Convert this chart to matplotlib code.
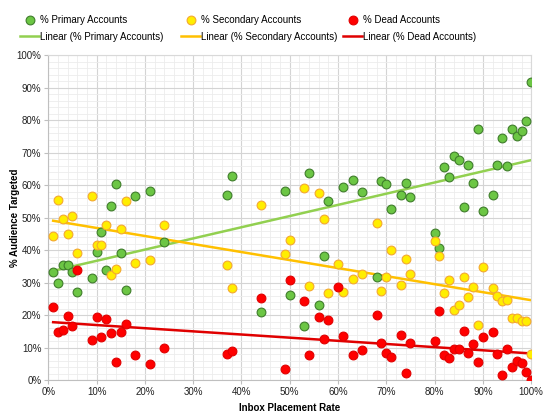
import numpy as np
import matplotlib
matplotlib.use('Agg')
import matplotlib.pyplot as plt
from matplotlib.ticker import MultipleLocator, FuncFormatter

plt.rcParams['font.family'] = ['Liberation Sans', 'DejaVu Sans']

# % Primary Accounts
primary_x = [1, 2, 3, 4, 5, 6, 9, 10, 11, 12, 13, 14, 15, 16, 18, 21, 24, 37, 38, 44,
             49, 50, 53, 54, 56, 57, 58, 61, 63, 65, 68, 69, 70, 71, 73, 74, 75, 80, 81,
             82, 83, 84, 85, 86, 87, 88, 89, 90, 92, 93, 94, 95, 96, 97, 98, 99, 100]
primary_y = [33.3, 29.7, 35.3, 35.3, 33.1, 27.2, 31.3, 39.3, 45.4, 34.0, 53.4, 60.2, 39.0,
             27.6, 56.5, 58.2, 42.4, 56.8, 62.8, 21.0, 58.3, 26.1, 16.7, 63.6, 23.0, 38.3,
             55.0, 59.5, 61.4, 58.0, 31.7, 61.3, 60.3, 52.7, 57.0, 60.6, 56.3, 45.3, 40.6,
             65.6, 62.5, 68.9, 67.6, 53.2, 66.3, 60.6, 77.3, 51.9, 57.0, 66.3, 74.4, 65.8,
             77.1, 75.1, 76.6, 79.7, 91.8]

# % Secondary Accounts
secondary_x = [1, 2, 3, 4, 5, 6, 9, 10, 11, 12, 13, 14, 15, 16, 18, 21, 24, 37, 38, 44,
               49, 50, 53, 54, 56, 57, 58, 60, 61, 63, 65, 68, 69, 70, 71, 73, 74, 75, 80,
               81, 82, 83, 84, 85, 86, 87, 88, 89, 90, 92, 93, 94, 95, 96, 97, 98, 99, 100]
secondary_y = [44.3, 55.5, 49.6, 45.0, 50.4, 39.1, 56.5, 41.5, 41.6, 47.6, 32.2, 34.3, 46.4,
               55.1, 36.0, 36.8, 47.6, 35.3, 28.4, 53.9, 38.7, 43.2, 59.2, 28.9, 57.7, 49.4,
               26.7, 35.7, 27.2, 31.0, 32.6, 48.4, 27.4, 31.6, 39.9, 29.1, 37.1, 32.7, 42.7,
               38.3, 26.7, 30.9, 21.5, 23.0, 31.8, 25.5, 28.5, 17.0, 34.7, 28.2, 25.7, 24.3,
               24.7, 19.1, 19.2, 18.1, 18.1, 8.0]

# % Dead Accounts
dead_x = [1, 2, 3, 4, 5, 6, 9, 10, 11, 12, 13, 14, 15, 16, 18, 21, 24, 37, 38, 44, 49, 50,
          53, 54, 56, 57, 58, 60, 61, 63, 65, 68, 69, 70, 71, 73, 74, 75, 80, 81, 82, 83,
          84, 85, 86, 87, 88, 89, 90, 92, 93, 94, 95, 96, 97, 98, 99, 100]
dead_y = [22.6, 14.9, 15.4, 19.7, 16.6, 34.0, 12.2, 19.5, 13.1, 18.7, 14.4, 5.4, 14.9, 17.3,
          7.6, 5.0, 10.0, 8.1, 8.9, 25.1, 3.3, 30.7, 24.3, 7.6, 19.3, 12.5, 18.6, 28.6, 13.5,
          7.8, 9.3, 19.9, 11.3, 8.2, 7.2, 13.9, 2.1, 11.3, 12.0, 21.1, 7.8, 6.8, 9.5, 9.5,
          15.1, 8.2, 11.1, 5.6, 13.3, 14.8, 8.0, 1.4, 9.5, 4.0, 5.7, 5.2, 2.4, 0.1]

series = [
    ('% Primary Accounts', primary_x, primary_y, '#6cc644', '#3f7d2b', '#92d050'),
    ('% Secondary Accounts', secondary_x, secondary_y, '#ffee00', '#f4a830', '#ffc000'),
    ('% Dead Accounts', dead_x, dead_y, '#ff0000', '#e00000', '#e00000'),
]

fig = plt.figure(figsize=(5.51, 4.17), dpi=100)
ax = fig.add_axes([0.0877, 0.0887, 0.8763, 0.7793])

# legend columns are equally wide, like Excel
legend_x = [0.036, 0.3285, 0.6225]

for (name, xs, ys, fill, edge, line_color), lx in zip(series, legend_x):
    x = np.array(xs) / 100
    y = np.array(ys) / 100
    sc = ax.scatter(x, y, s=40, c=fill, edgecolors=edge, linewidths=0.8, zorder=3, label=name)
    # linear trendline
    k, b = np.polyfit(x, y, 1)
    xx = np.array([x.min(), x.max()])
    ln, = ax.plot(xx, k * xx + b, color=line_color, lw=1.8, zorder=2,
                  label='Linear (' + name + ')')
    fig.legend(handles=[sc, ln], loc='upper left', bbox_to_anchor=(lx, 0.965),
               frameon=False, fontsize=7, handlelength=2.0, handletextpad=0.1,
               labelspacing=0.75, borderpad=0, borderaxespad=0, scatterpoints=1)

ax.set_xlim(0, 1)
ax.set_ylim(0, 1)
pct = FuncFormatter(lambda v, p: f'{v * 100:.0f}%')
ax.xaxis.set_major_locator(MultipleLocator(0.1))
ax.yaxis.set_major_locator(MultipleLocator(0.1))
ax.xaxis.set_minor_locator(MultipleLocator(0.02))
ax.yaxis.set_minor_locator(MultipleLocator(0.02))
ax.xaxis.set_major_formatter(pct)
ax.yaxis.set_major_formatter(pct)
ax.grid(which='major', color='#d4d4d4', lw=0.8, zorder=0)
ax.grid(which='minor', color='#ececec', lw=0.6, zorder=0)
ax.set_axisbelow(True)
ax.tick_params(which='major', length=3, color='#bfbfbf', labelsize=7, pad=2, labelcolor='#222222')
ax.tick_params(which='minor', length=0)
for side in ['top', 'right']:
    ax.spines[side].set_color('#d9d9d9')
for side in ['left', 'bottom']:
    ax.spines[side].set_color('#bfbfbf')

ax.set_xlabel('Inbox Placement Rate', fontsize=7, fontweight='bold')
ax.set_ylabel('% Audience Targeted', fontsize=7, fontweight='bold')
ax.xaxis.set_label_coords(0.5, -0.072)
ax.yaxis.set_label_coords(-0.058, 0.5)

fig.savefig('out.png', dpi=100)
